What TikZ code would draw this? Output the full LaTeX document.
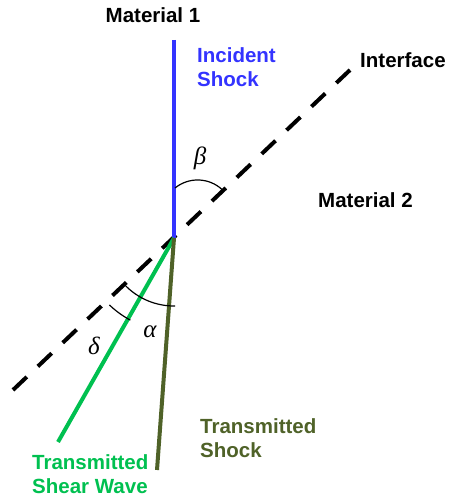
\documentclass[tikz,border=0pt]{standalone}
\usepackage{amsmath}
\usepackage{fontspec}
\setmainfont{Liberation Sans}
\newfontfamily\greekfont{Liberation Serif}
\usepackage{tikz}

\definecolor{shockblue}{RGB}{51,51,255}
\definecolor{sheargreen}{RGB}{0,192,80}
\definecolor{transolive}{RGB}{79,98,40}

\begin{document}
\begin{tikzpicture}[x=1pt, y=1pt,
    lbl/.style={font=\fontsize{20.5}{24}\selectfont\bfseries, inner sep=0pt, align=left},
    greek/.style={font=\fontsize{25}{26}\selectfont\greekfont\itshape, inner sep=0pt},
    wave/.style={line width=4pt},
    anglearc/.style={line width=1.2pt}]
            \useasboundingbox (0,0) rectangle (449,498);

            % Interface and waves
            \coordinate (O) at (174,260);
            \coordinate (B) at (174,458);
            \coordinate (I1) at (13,108);
            \coordinate (I2) at (350,428);
            \coordinate (G) at (58,56);
            \coordinate (T) at (157,28);

            \draw[wave, dash pattern=on 19pt off 15.3pt] (I1) -- (I2);
            \draw[wave, shockblue] (B) -- (O);
            \draw[wave, sheargreen] (O) -- (G);
            \draw[wave, transolive] (O) -- (T);

            % Angles
            \draw[anglearc] (O) ++(1,50) arc[start angle=129, end angle=47, radius=36];
            \draw[anglearc] (O) ++(223:68) arc[start angle=223, end angle=271, radius=68];
            \draw[anglearc] (O) ++(226:93) arc[start angle=226, end angle=242, radius=93];
            \node[greek] (beta) at (200,340) {β};
            \node[greek] (alpha) at (150,166) {α};
            \node[greek] (delta) at (94,152) {δ};

            % Labels
            \node[lbl, anchor=base] (mat1) at (153,475) {Material 1};
            \node[lbl, anchor=base west] (mat2) at (318,290) {Material 2};
            \node[lbl, anchor=base west] (iface) at (360,430) {Interface};
            \node[lbl, anchor=base west, shockblue] (inc) at (197,411) {Incident\\Shock};
            \node[lbl, anchor=base west, transolive] (tshock) at (200,40) {Transmitted\\Shock};
            \node[lbl, anchor=base west, sheargreen] (tshear) at (32,5) {Transmitted\\Shear Wave};
        \end{tikzpicture}
\end{document}
